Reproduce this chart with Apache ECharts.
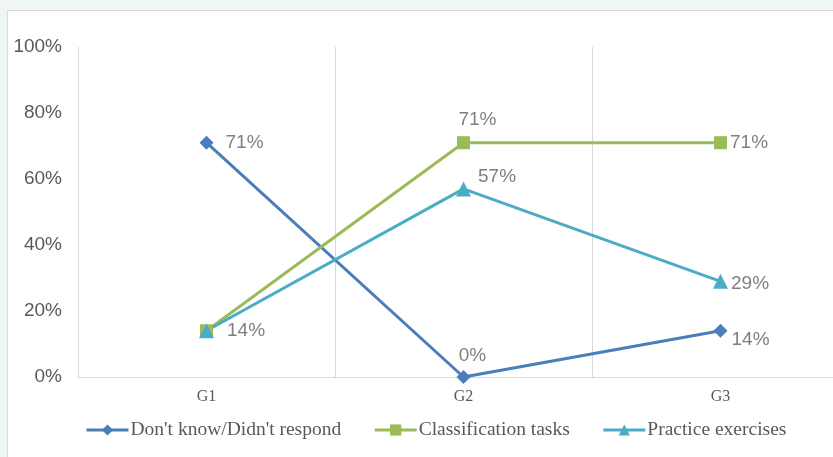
<!DOCTYPE html>
<html><head><meta charset="utf-8">
<script src="https://cdn.jsdelivr.net/npm/echarts@6/dist/echarts.min.js"></script>
<style>
html,body{margin:0;padding:0;background:#eef6f6;}
#wrap{position:absolute;left:7px;top:10px;width:840px;height:460px;background:#fff;border:1px solid #d9d9d9;box-sizing:border-box;}
#c{position:absolute;left:0;top:0;width:833px;height:457px;}
</style></head>
<body>
<div id="wrap"></div>
<div id="c"></div>
<script>
const categories = ['G1', 'G2', 'G3'];
const seriesNames = ["Don't know/Didn't respond", 'Classification tasks', 'Practice exercises'];
const dontKnow = [71, 0, 14];
const classification = [14, 71, 71];
const practice = [14, 57, 29];
const yTicks = [0, 20, 40, 60, 80, 100];

const colors = ['#4a7ebb', '#9bbb59', '#4bacc6'];
const labelStyle = {show: true, formatter: '{c}%', color: '#7f7f7f', fontSize: 19, fontFamily: 'Liberation Sans, Arial, sans-serif', position: 'right'};

// per-point label placement (styles only)
const blueLabels = [{distance: 12}, {position: 'top', distance: 5, offset: [9, 0]}, {distance: 4, offset: [0, 9]}];
const greenLabels = [{show: false}, {position: 'top', distance: 7, offset: [14, 0]}, {distance: 3}];
const tealLabels = [{distance: 13}, {distance: 7, offset: [0, -12]}, {distance: 3, offset: [0, 2]}];

function mk(vals, lbls) { return vals.map((v, i) => ({value: v, label: lbls[i]})); }

const chart = echarts.init(document.getElementById('c'), null, {renderer: 'canvas'});
chart.setOption({
  animation: false,
  backgroundColor: 'transparent',
  color: colors,
  grid: {left: 78, width: 771, top: 47, bottom: 80, containLabel: false, outerBoundsMode: 'none'},
  legend: {
    bottom: 17, left: 85, padding: 0,
    itemWidth: 42, itemHeight: 14, itemGap: 32,
    lineStyle: {width: 3},
    textStyle: {fontFamily: 'Liberation Serif, serif', fontSize: 19.5, color: '#595959', padding: [0,0,0,-3]},
    data: seriesNames
  },
  xAxis: {
    type: 'category', data: categories, boundaryGap: true,
    axisLine: {lineStyle: {color: '#d9d9d9', width: 1}},
    axisTick: {show: false},
    axisLabel: {color: '#595959', fontFamily: 'Liberation Serif, serif', fontSize: 16, margin: 12},
    splitLine: {show: true, lineStyle: {color: '#d9d9d9', width: 1}}
  },
  yAxis: {
    type: 'value', min: yTicks[0], max: yTicks[yTicks.length-1], interval: 20,
    axisLine: {show: false}, axisTick: {show: false},
    splitLine: {show: false},
    axisLabel: {formatter: '{value}%', color: '#595959', fontSize: 19, fontFamily: 'Liberation Sans, Arial, sans-serif', margin: 16}
  },
  series: [
    {name: seriesNames[0], type: 'line', symbol: 'diamond', symbolSize: 14,
     lineStyle: {width: 3}, label: labelStyle, emphasis: {disabled: true},
     data: mk(dontKnow, blueLabels)},
    {name: seriesNames[1], type: 'line', symbol: 'rect', symbolSize: 13,
     lineStyle: {width: 3}, label: labelStyle, emphasis: {disabled: true},
     data: mk(classification, greenLabels)},
    {name: seriesNames[2], type: 'line', symbol: 'triangle', symbolSize: 15,
     lineStyle: {width: 3}, label: labelStyle, emphasis: {disabled: true},
     data: mk(practice, tealLabels)}
  ]
});
</script>
</body></html>
